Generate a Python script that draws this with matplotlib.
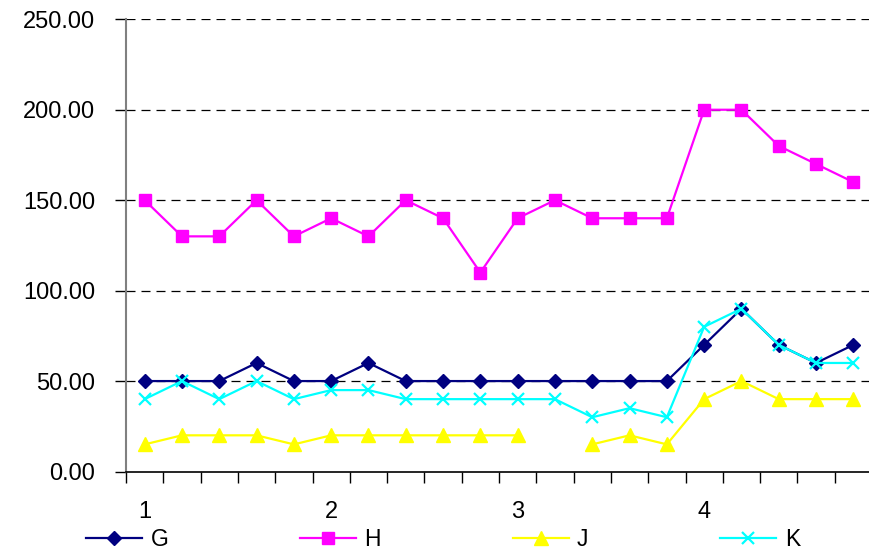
import numpy as np
import matplotlib
matplotlib.use("Agg")
import matplotlib.pyplot as plt

plt.rcParams['font.family'] = ['Liberation Sans', 'DejaVu Sans']

# Series values, one per category (None = missing point)
tick_labels = ["1", "", "", "", "", "2", "", "", "", "", "3", "", "", "", "", "4", "", "", "", ""]
G = [50, 50, 50, 60, 50, 50, 60, 50, 50, 50, 50, 50, 50, 50, 50, 70, 90, 70, 60, 70]
H = [150, 130, 130, 150, 130, 140, 130, 150, 140, 110, 140, 150, 140, 140, 140, 200, 200, 180, 170, 160]
J = [15, 20, 20, 20, 15, 20, 20, 20, 20, 20, 20, None, 15, 20, 15, 40, 50, 40, 40, 40]
K = [40, 50, 40, 50, 40, 45, 45, 40, 40, 40, 40, 40, 30, 35, 30, 80, 90, 70, 60, 60]

W, H_PX = 869, 552
fig = plt.figure(figsize=(W / 100, H_PX / 100), dpi=100)
ax = fig.add_axes([126 / W, 1 - 471.5 / H_PX, (872 - 126) / W, (471.5 - 19.3) / H_PX])

n = len(G)
x = np.arange(n)

def arr(v):
    return np.array([np.nan if a is None else a for a in v], dtype=float)

ax.plot(x, arr(G), color='#000080', lw=1.6, marker='D', ms=6.8, label='G', zorder=4)
ax.plot(x, arr(H), color='#FF00FF', lw=1.6, marker='s', ms=8.6, label='H', zorder=3)
ax.plot(x, arr(J), color='#FFFF00', lw=1.6, marker='^', ms=10, label='J', zorder=3)
ax.plot(x, arr(K), color='#00FFFF', lw=1.6, marker='x', ms=9, mew=1.6, label='K', zorder=5)

ax.set_xlim(-0.5, n - 0.5)
ax.set_ylim(0, 250)

yt = [0, 50, 100, 150, 200, 250]
ax.set_yticks(yt)
ax.set_yticklabels([f"{v:.2f}" for v in yt], fontsize=17)
for v in yt[1:]:
    ax.axhline(v, color='black', lw=0.9, ls=(0, (7.2, 4.8)), zorder=1)

# category boundaries carry the ticks; labels sit at category centres
ax.set_xticks(np.arange(n + 1) - 0.5)
ax.set_xticklabels([])
ax.set_xticks(x, minor=True)
ax.set_xticklabels(tick_labels, minor=True, fontsize=17)
ax.tick_params(axis='x', which='minor', length=0, pad=21)
ax.tick_params(axis='x', which='major', length=8, width=1, direction='out')
ax.tick_params(axis='y', length=8, width=1, direction='out', pad=14)

for s in ['top', 'right']:
    ax.spines[s].set_visible(False)
ax.spines['left'].set_color('#808080')
ax.spines['left'].set_linewidth(1.5)
ax.spines['bottom'].set_color('black')
ax.spines['bottom'].set_linewidth(1.2)

handles, labels = ax.get_legend_handles_labels()
fig.legend(handles, labels, loc='center left', bbox_to_anchor=(86 / W, 1 - 539.5 / H_PX),
           ncol=4, frameon=False, fontsize=16.5, handlelength=2.45, handletextpad=0.36,
           columnspacing=5.75, borderaxespad=0, borderpad=0)

fig.savefig('out.png', dpi=100)
